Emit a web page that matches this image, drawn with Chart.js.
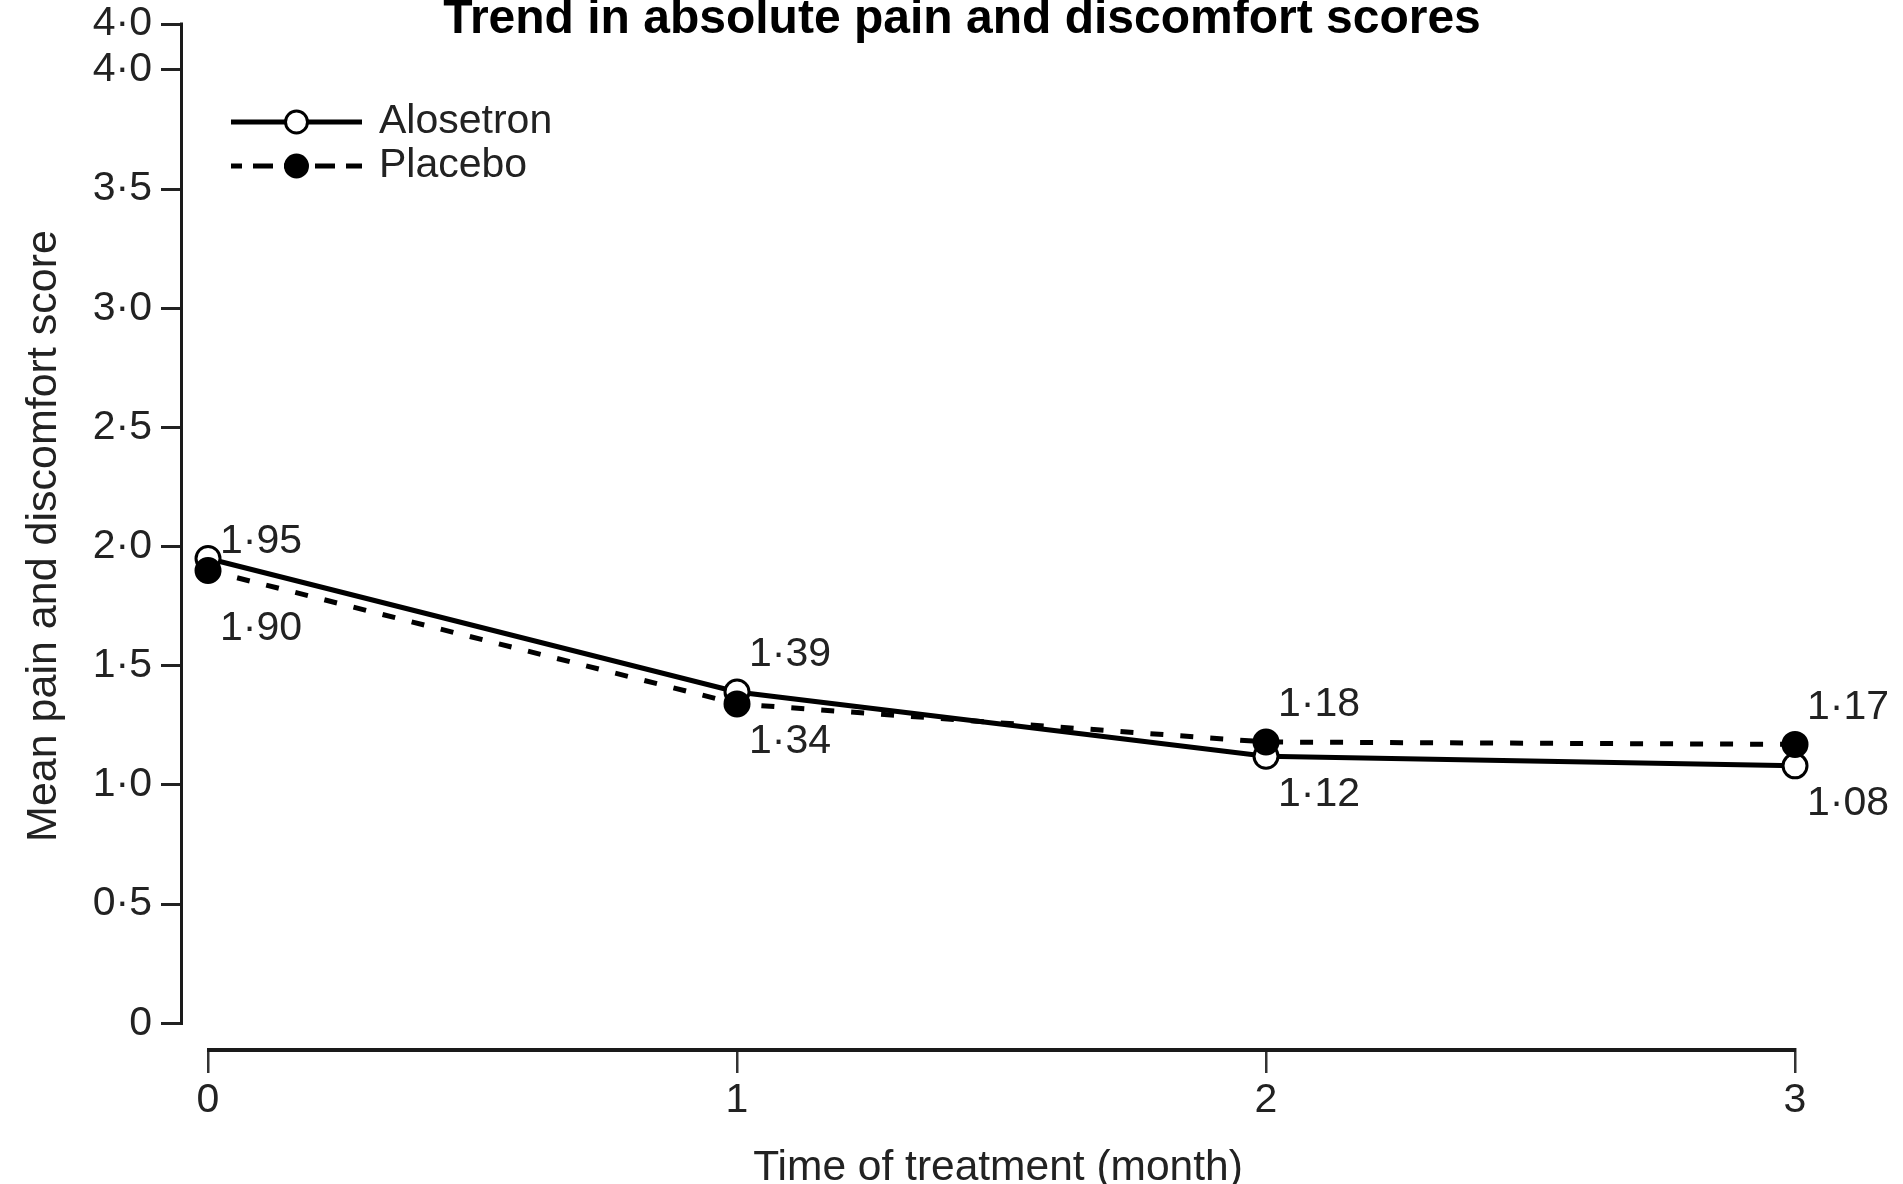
<!DOCTYPE html>
<html>
<head>
<meta charset="utf-8">
<script src="https://cdn.jsdelivr.net/npm/chart.js@4/dist/chart.umd.min.js"></script>
<style>
  html, body { margin: 0; padding: 0; background: #fff; }
  canvas { display: block; }
</style>
</head>
<body>
<canvas id="chart" width="1903" height="1184"></canvas>
<script>
// ---- data ----
const chartTitle = 'Trend in absolute pain and discomfort scores';
const seriesNames = ['Alosetron', 'Placebo'];
const months = [0, 1, 2, 3];
const alosetron = [1.95, 1.39, 1.12, 1.08];
const placebo = [1.90, 1.34, 1.18, 1.17];
const xTickValues = [0, 1, 2, 3];
const xTickLabels = ['0', '1', '2', '3'];
const yTickValues = [0, 0.5, 1, 1.5, 2, 2.5, 3, 3.5, 4];
const yTickLabels = ['0', '0·5', '1·0', '1·5', '2·0', '2·5', '3·0', '3·5', '4·0'];
const yAxisEndLabel = '4·0';
const xTitle = 'Time of treatment (month)';
const yTitle = 'Mean pain and discomfort score';

// ---- scale ranges and styling ----
const X_MIN = -0.0473, X_MAX = 3.034;
const Y_MIN = -0.104, Y_MAX = 4.193;
const FAMILY = "'Liberation Sans', Arial, Helvetica, sans-serif";
const TEXT = '#222';
const baseFont = { family: FAMILY, size: 41 };

const fmt = v => v.toFixed(2).replace('.', '·');

// axis lines that stop at the first/last tick, like a classic journal figure
const axisLines = {
  id: 'axisLines',
  beforeDatasetsDraw(chart) {
    const { ctx, chartArea, scales: { x, y } } = chart;
    ctx.save();
    ctx.strokeStyle = '#1a1a1a';
    ctx.lineCap = 'butt';
    ctx.lineWidth = 3;
    ctx.beginPath();
    ctx.moveTo(chartArea.left - 1.5, y.getPixelForValue(0) + 1.5);
    ctx.lineTo(chartArea.left - 1.5, y.getPixelForValue(Y_MAX) - 1.5);
    ctx.stroke();
    ctx.lineWidth = 4;
    ctx.beginPath();
    ctx.moveTo(x.getPixelForValue(xTickValues[0]) - 1, chartArea.bottom + 2);
    ctx.lineTo(x.getPixelForValue(xTickValues[xTickValues.length - 1]) + 1, chartArea.bottom + 2);
    ctx.stroke();
    ctx.restore();
  }
};

// value labels: the higher series of each pair above its point, the lower one below
const valueLabels = {
  id: 'valueLabels',
  afterDatasetsDraw(chart, args, opts) {
    const { ctx } = chart;
    const ds = chart.data.datasets;
    ctx.save();
    ctx.font = `${baseFont.size}px ${FAMILY}`;
    ctx.fillStyle = TEXT;
    ctx.textAlign = 'left';
    ctx.textBaseline = 'middle';
    ds.forEach((set, di) => {
      const meta = chart.getDatasetMeta(di);
      const other = ds[1 - di];
      set.data.forEach((p, i) => {
        const el = meta.data[i];
        const above = p.y >= other.data[i].y;
        const nudge = opts.nudge[i] || 0;
        const ty = above ? el.y + opts.above + nudge : el.y + opts.below + nudge;
        ctx.fillText(fmt(p.y), el.x + opts.dx, ty);
      });
    });
    ctx.restore();
  }
};

// line-and-marker legend in the upper left of the plot
const sampleLegend = {
  id: 'sampleLegend',
  afterDraw(chart, args, opts) {
    const { ctx } = chart;
    ctx.save();
    chart.data.datasets.forEach((set, i) => {
      const yy = opts.y + i * opts.gap;
      ctx.strokeStyle = set.borderColor;
      ctx.lineWidth = set.borderWidth;
      ctx.setLineDash(set.borderDash ? opts.dash : []);
      ctx.lineDashOffset = set.borderDash ? opts.dashOffset : 0;
      ctx.beginPath();
      ctx.moveTo(opts.x0, yy);
      ctx.lineTo(opts.x1, yy);
      ctx.stroke();
      ctx.setLineDash([]);
      ctx.beginPath();
      ctx.arc((opts.x0 + opts.x1) / 2, yy, set.pointRadius - 1, 0, Math.PI * 2);
      ctx.fillStyle = set.pointBackgroundColor;
      ctx.fill();
      ctx.lineWidth = set.pointBorderWidth;
      ctx.strokeStyle = set.pointBorderColor;
      ctx.stroke();
      ctx.font = `${baseFont.size}px ${FAMILY}`;
      ctx.fillStyle = TEXT;
      ctx.textAlign = 'left';
      ctx.textBaseline = 'middle';
      ctx.fillText(set.label, opts.textX, yy);
    });
    ctx.restore();
  }
};

// bold heading along the top edge
const heading = {
  id: 'heading',
  afterDraw(chart, args, opts) {
    const { ctx } = chart;
    ctx.save();
    ctx.font = `bold ${opts.size}px ${FAMILY}`;
    ctx.fillStyle = '#000';
    ctx.textAlign = 'center';
    ctx.textBaseline = 'alphabetic';
    ctx.fillText(opts.text, opts.x, opts.baseline);
    ctx.restore();
  }
};

new Chart(document.getElementById('chart'), {
  type: 'line',
  data: {
    datasets: [
      {
        label: seriesNames[0],
        data: months.map((m, i) => ({ x: m, y: alosetron[i] })),
        borderColor: '#000',
        borderWidth: 5,
        pointRadius: 12,
        pointBorderWidth: 3,
        pointBackgroundColor: '#fff',
        pointBorderColor: '#000',
        tension: 0,
        fill: false,
        order: 2,
        clip: false
      },
      {
        label: seriesNames[1],
        data: months.map((m, i) => ({ x: m, y: placebo[i] })),
        borderColor: '#000',
        borderWidth: 5,
        borderDash: [13, 17],
        pointRadius: 12,
        pointBorderWidth: 3,
        pointBackgroundColor: '#000',
        pointBorderColor: '#000',
        tension: 0,
        fill: false,
        order: 1,
        clip: false
      }
    ]
  },
  options: {
    responsive: false,
    animation: false,
    devicePixelRatio: 1,
    layout: { padding: { top: 24, right: 90, bottom: 0, left: 0 } },
    scales: {
      x: {
        type: 'linear',
        min: X_MIN,
        max: X_MAX,
        afterBuildTicks: s => { s.ticks = xTickValues.map(v => ({ value: v })); },
        afterFit: s => { s.height = 136; s.paddingLeft = 0; s.paddingRight = 0; },
        ticks: {
          callback: (v, i) => xTickLabels[i],
          font: baseFont,
          color: TEXT,
          padding: 3,
          autoSkip: false,
          maxRotation: 0
        },
        grid: { drawOnChartArea: false, drawTicks: true, tickLength: 25, lineWidth: 2.5, color: '#333' },
        border: { display: false },
        title: { display: true, text: xTitle, font: { family: FAMILY, size: 42.5 }, color: TEXT, padding: { top: 0, bottom: -10 } }
      },
      y: {
        type: 'linear',
        min: Y_MIN,
        max: Y_MAX,
        afterBuildTicks: s => { s.ticks = yTickValues.map(v => ({ value: v })).concat([{ value: Y_MAX }]); },
        afterFit: s => { s.width = 183; s.paddingTop = 0; s.paddingBottom = 0; },
        ticks: {
          callback: (v, i) => (i < yTickLabels.length ? yTickLabels[i] : yAxisEndLabel),
          font: baseFont,
          color: TEXT,
          padding: 9,
          autoSkip: false
        },
        grid: { drawOnChartArea: false, drawTicks: true, tickLength: 22, lineWidth: 3, color: '#222' },
        border: { display: false },
        title: { display: true, text: yTitle, font: { family: FAMILY, size: 43 }, color: TEXT, padding: { top: 18, bottom: 0 } }
      }
    },
    plugins: {
      legend: { display: false },
      tooltip: { enabled: false },
      title: { display: false },
      heading: { text: chartTitle, size: 48, x: 962, baseline: 33 },
      sampleLegend: { x0: 231, x1: 362, y: 122, gap: 44, textX: 379, dash: [20, 11], dashOffset: 9 },
      valueLabels: { dx: 12, above: -37, below: 38, nudge: [20, 0, 0, 0] }
    }
  },
  plugins: [axisLines, valueLabels, sampleLegend, heading]
});
</script>
</body>
</html>
